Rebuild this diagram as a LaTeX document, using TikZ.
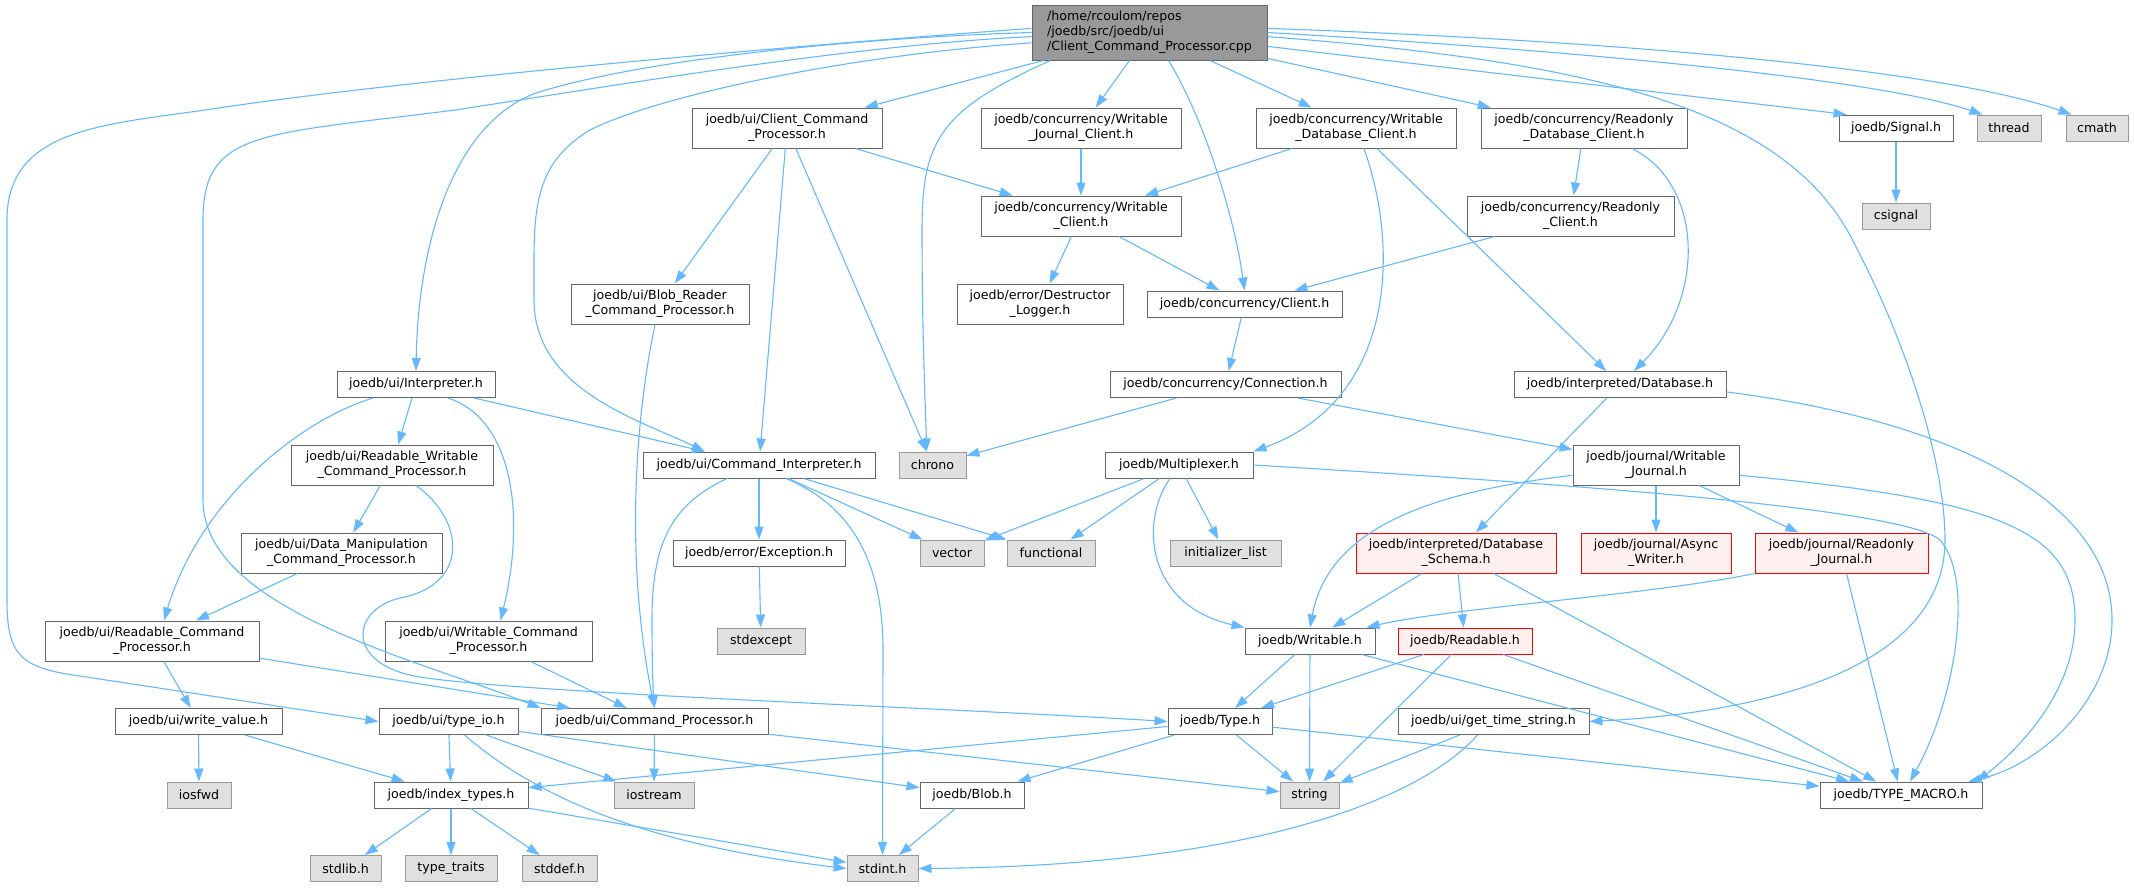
\documentclass[tikz,border=0pt]{standalone}
\usepackage{fontspec}
\setmainfont{DejaVu Sans}
\usetikzlibrary{arrows.meta}
\definecolor{edgeblue}{HTML}{63B8FF}
\definecolor{boxgray}{HTML}{666666}
\definecolor{sysfill}{HTML}{E0E0E0}
\definecolor{sysline}{HTML}{999999}
\definecolor{rootfill}{HTML}{999999}
\definecolor{truncfill}{HTML}{FFF0F0}
\begin{document}
\begin{tikzpicture}[x=1pt, y=-1pt,
    hdr/.style={draw=boxgray, fill=white, line width=1pt, inner sep=2pt, align=center,
      minimum height=26pt, font=\fontsize{12.6}{15}\selectfont},
    twoline/.style={minimum height=40pt},
    sys/.style={hdr, draw=sysline, fill=sysfill},
    trunc/.style={hdr, draw=red, fill=truncfill},
    inc/.style={draw=edgeblue, line width=1.1pt, -{Triangle[length=13pt,width=9pt]}}]
    \useasboundingbox (0,0) rectangle (2134,887);
    % the file itself
    \node[hdr, fill=rootfill, align=left, minimum width=235pt, minimum height=55pt] (root) at (1149.5,32.5)
      {/home/rcoulom/repos\\/joedb/src/joedb/ui\\/Client\_Command\_Processor.cpp};
    % first level
    \node[hdr, twoline, minimum width=190pt] (ccp) at (787,128) {joedb/ui/Client\_Command\\\_Processor.h};
    \node[hdr, twoline, minimum width=200pt] (wjc) at (1081,128) {joedb/concurrency/Writable\\\_Journal\_Client.h};
    \node[hdr, twoline, minimum width=200pt] (wdc) at (1356,128) {joedb/concurrency/Writable\\\_Database\_Client.h};
    \node[hdr, twoline, minimum width=206pt] (rdc) at (1584,128) {joedb/concurrency/Readonly\\\_Database\_Client.h};
    \node[hdr, minimum width=114pt] (signal) at (1896,128) {joedb/Signal.h};
    \node[sys, minimum width=64pt] (thread) at (2009,128) {thread};
    \node[sys, minimum width=62pt] (cmath) at (2097,128) {cmath};
    \node[hdr, twoline, minimum width=200pt] (wc) at (1081,216) {joedb/concurrency/Writable\\\_Client.h};
    \node[hdr, twoline, minimum width=207pt] (rc) at (1570.5,216) {joedb/concurrency/Readonly\\\_Client.h};
    \node[sys, minimum width=68pt] (csignal) at (1896,216) {csignal};
    \node[hdr, twoline, minimum width=178pt] (blobrd) at (660,304) {joedb/ui/Blob\_Reader\\\_Command\_Processor.h};
    \node[hdr, twoline, minimum width=166pt] (dlog) at (1040,304) {joedb/error/Destructor\\\_Logger.h};
    \node[hdr, minimum width=195pt] (client) at (1244.5,304) {joedb/concurrency/Client.h};
    \node[hdr, minimum width=158pt] (interp) at (416,384.5) {joedb/ui/Interpreter.h};
    \node[hdr, minimum width=231pt] (conn) at (1225.5,384.5) {joedb/concurrency/Connection.h};
    \node[hdr, minimum width=212pt] (idb) at (1620,384.5) {joedb/interpreted/Database.h};
    \node[hdr, twoline, minimum width=202pt] (rwcp) at (392,465) {joedb/ui/Readable\_Writable\\\_Command\_Processor.h};
    \node[hdr, minimum width=232pt] (cmdint) at (759,465) {joedb/ui/Command\_Interpreter.h};
    \node[sys, minimum width=67pt] (chrono) at (932.5,465) {chrono};
    \node[hdr, minimum width=148pt] (mux) at (1179,465) {joedb/Multiplexer.h};
    \node[hdr, twoline, minimum width=166pt] (wj) at (1656,465) {joedb/journal/Writable\\\_Journal.h};
    \node[hdr, twoline, minimum width=201pt] (dmcp) at (341.5,553) {joedb/ui/Data\_Manipulation\\\_Command\_Processor.h};
    \node[hdr, minimum width=172pt] (exc) at (759,553) {joedb/error/Exception.h};
    \node[sys, minimum width=64pt] (vector) at (952,553) {vector};
    \node[sys, minimum width=88pt] (functional) at (1051,553) {functional};
    \node[sys, minimum width=111pt] (initlist) at (1225.5,553) {initializer\_list};
    \node[trunc, twoline, minimum width=200pt] (schema) at (1456,553) {joedb/interpreted/Database\\\_Schema.h};
    \node[trunc, twoline, minimum width=150pt] (async) at (1656,553) {joedb/journal/Async\\\_Writer.h};
    \node[trunc, twoline, minimum width=173pt] (rj) at (1841.5,553) {joedb/journal/Readonly\\\_Journal.h};
    \node[hdr, twoline, minimum width=214pt] (rcp) at (152,641) {joedb/ui/Readable\_Command\\\_Processor.h};
    \node[hdr, twoline, minimum width=207pt] (wcp) at (488.5,641) {joedb/ui/Writable\_Command\\\_Processor.h};
    \node[sys, minimum width=88pt] (stdexcept) at (761,641) {stdexcept};
    \node[hdr, minimum width=130pt] (writable) at (1310,641) {joedb/Writable.h};
    \node[trunc, minimum width=134pt] (readable) at (1465,641) {joedb/Readable.h};
    \node[hdr, minimum width=167pt] (wv) at (198.5,721.5) {joedb/ui/write\_value.h};
    \node[hdr, minimum width=139pt] (typeio) at (448.5,721.5) {joedb/ui/type\_io.h};
    \node[hdr, minimum width=227pt] (cp) at (654.5,721.5) {joedb/ui/Command\_Processor.h};
    \node[hdr, minimum width=104pt] (type) at (1220,721.5) {joedb/Type.h};
    \node[hdr, minimum width=191pt] (gts) at (1493.5,721.5) {joedb/ui/get\_time\_string.h};
    \node[sys, minimum width=64pt] (iosfwd) at (199,795) {iosfwd};
    \node[hdr, minimum width=154pt] (idx) at (451,795) {joedb/index\_types.h};
    \node[sys, minimum width=80pt] (iostream) at (654,795) {iostream};
    \node[hdr, minimum width=104pt] (blob) at (972,795) {joedb/Blob.h};
    \node[sys, minimum width=59pt] (string) at (1309.5,795) {string};
    \node[hdr, minimum width=162pt] (tm) at (1901,795) {joedb/TYPE\_MACRO.h};
    \node[sys, minimum width=71pt] (stdlib) at (345.5,868.5) {stdlib.h};
    \node[sys, minimum width=92pt] (traits) at (451,868.5) {type\_traits};
    \node[sys, minimum width=75pt] (stddef) at (559.5,868.5) {stddef.h};
    \node[sys, minimum width=71pt] (stdint) at (882.5,868.5) {stdint.h};
    % straight includes
    \foreach \a/\b in {root/ccp, root/wjc, root/wdc, root/rdc, ccp/blobrd, ccp/cmdint, ccp/chrono, ccp/wc,
        wjc/wc, wdc/wc, wdc/idb, rdc/rc, rc/client, wc/dlog, wc/client, client/conn, conn/chrono, conn/wj,
        signal/csignal, interp/rwcp, rwcp/dmcp, dmcp/rcp, rcp/wv, rcp/cp, wcp/cp, cmdint/exc, cmdint/vector,
        cmdint/functional, exc/stdexcept, mux/vector, mux/functional, mux/initlist, idb/schema, wj/async,
        wj/rj, schema/writable, schema/readable, schema/tm, rj/tm, writable/type, writable/string,
        writable/tm, readable/type, readable/string, readable/tm, type/idx, type/blob, type/string, type/tm,
        gts/string, typeio/idx, typeio/iostream, typeio/blob, cp/iostream, cp/string, wv/iosfwd, wv/idx,
        blob/stdint, idx/stdlib, idx/traits, idx/stddef, idx/stdint}
      \draw[inc] (\a) -- (\b);
    \draw[inc] (root) -- ([xshift=8pt]signal.north west);
    \draw[inc] (interp) -- (cmdint.166);
    % curved includes from the file
    \draw[inc] (root.178) .. controls (800,45) and (400,80) .. (205,110) .. controls (100,125) and (7,130) .. (7,220)
      -- (7,600) .. controls (7,655) and (20,668) .. (80,676) -- (typeio.west);
    \draw[inc] (root.180) .. controls (850,38) and (640,60) .. (536,93) .. controls (450,125) and (418,250) .. (interp.north);
    \draw[inc] (root.182) .. controls (850,45) and (600,88) .. (455,110) .. controls (260,135) and (203,130) .. (203,220)
      -- (203,500) .. controls (203,610) and (420,660) .. (cp.north west);
    \draw[inc] (root.185) .. controls (850,55) and (660,95) .. (590,130) .. controls (540,160) and (534,200) .. (534,260)
      -- (534,300) .. controls (534,390) and (640,420) .. (cmdint.166);
    \draw[inc] ([xshift=-99pt]root.south) .. controls (940,110) and (922,140) .. (922,230)
      .. controls (922,340) and (926,420) .. ([xshift=-6pt]chrono.north);
    \draw[inc] ([xshift=19pt]root.south) .. controls (1205,120) and (1235,220) .. (client.north);
    \draw[inc] (root.2) .. controls (1650,42) and (1950,72) .. ([xshift=6pt]cmath.north west);
    \draw[inc] (root.0) .. controls (1600,52) and (1880,80) .. ([xshift=6pt]thread.north west);
    \draw[inc] (root.-2) .. controls (1600,62) and (1790,110) .. (1855,245) .. controls (1905,340) and (1945,460) .. (1945,540)
      .. controls (1945,690) and (1700,716) .. (gts.east);
    % other curved includes
    \draw[inc] ([xshift=8pt]wdc.south) .. controls (1400,250) and (1395,400) .. (mux.north east);
    \draw[inc] ([xshift=48pt]rdc.south) .. controls (1705,185) and (1705,300) .. ([xshift=14pt]idb.north);
    \draw[inc] (idb.-4) .. controls (1950,420) and (2112,500) .. (2112,620)
      .. controls (2112,700) and (2040,765) .. ([xshift=-14pt]tm.north east);
    \draw[inc] (mux.east) .. controls (1500,480) and (1900,505) .. (1940,540)
      .. controls (1975,580) and (1955,700) .. ([xshift=9pt]tm.north);
    \draw[inc] (wj.-7) .. controls (2000,500) and (2075,530) .. (2075,620)
      .. controls (2075,700) and (2005,760) .. ([xshift=-6pt]tm.north east);
    \draw[inc] (wj.187) .. controls (1450,490) and (1330,520) .. (writable.north);
    \draw[inc] (rj.south west) .. controls (1650,595) and (1450,608) .. ([xshift=-9pt]writable.north east);
    \draw[inc] ([xshift=-9pt]mux.south) .. controls (1140,520) and (1145,605) .. (writable.north west);
    \draw[inc] ([xshift=27pt]cmdint.south) .. controls (850,505) and (883,560) .. (883,650) -- (stdint.north);
    \draw[inc] ([xshift=-32pt]cmdint.south) .. controls (670,505) and (652,545) .. (652,620)
      .. controls (652,660) and (653,690) .. (cp.north);
    \draw[inc] ([xshift=-5pt]blobrd.south) .. controls (635,420) and (625,560) .. (cp.north);
    \draw[inc] ([xshift=-43pt]interp.south) .. controls (300,420) and (200,500) .. ([xshift=12pt]rcp.north);
    \draw[inc] ([xshift=32pt]interp.south) .. controls (515,420) and (525,520) .. ([xshift=12pt]wcp.north);
    \draw[inc] ([xshift=24pt]rwcp.south) .. controls (465,520) and (470,585) .. (400,598) .. controls (350,610) and (345,665) .. (420,677)
      .. controls (520,693) and (950,708) .. (type.west);
    \draw[inc] ([xshift=16pt]typeio.south) .. controls (540,800) and (650,845) .. (stdint.west);
    \draw[inc] ([xshift=-16pt]gts.south) .. controls (1420,800) and (1250,866) .. (stdint.east);
\end{tikzpicture}
\end{document}
